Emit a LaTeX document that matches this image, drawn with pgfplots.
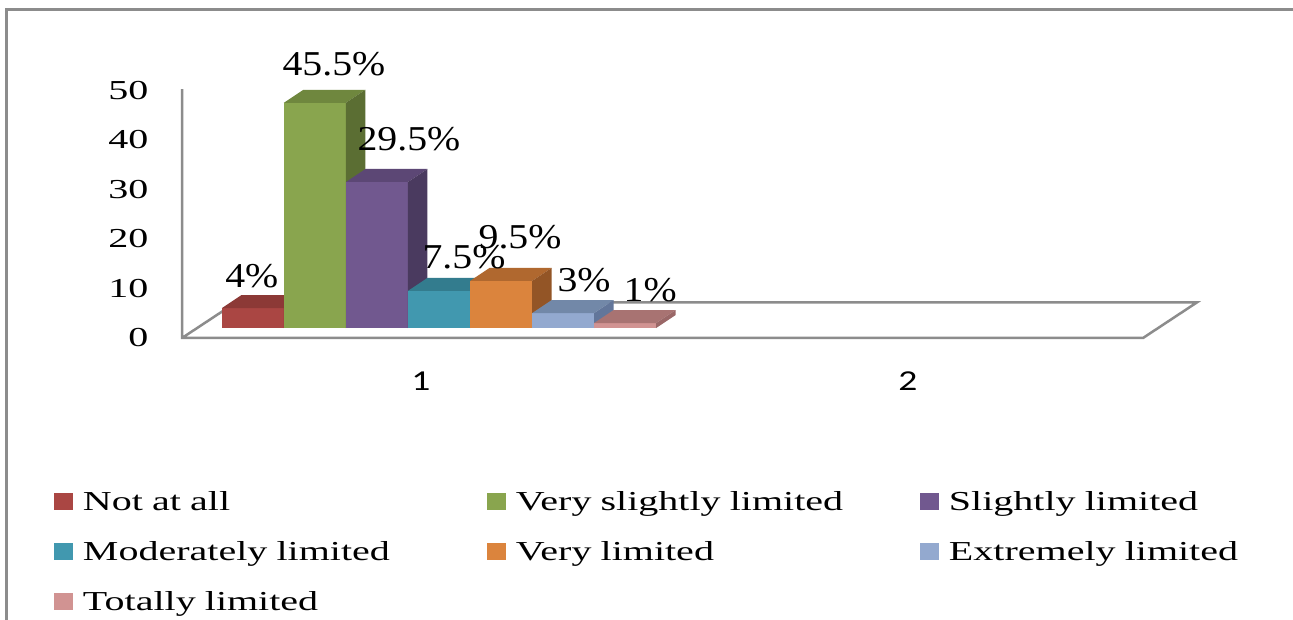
\documentclass[border=0pt]{standalone}
\usepackage{pgfplots}
\pgfplotsset{compat=1.18}
\usepackage{fontspec}
\setmainfont{Liberation Serif}[FakeStretch=1.46]
\newfontfamily\plainserif{Liberation Serif}[FakeStretch=1.14]
\newfontfamily\catfont{Carlito}[FakeStretch=1.3]

\definecolor{rF}{HTML}{AA4643}\definecolor{rT}{HTML}{8C3936}\definecolor{rS}{HTML}{7D3230}
\definecolor{gF}{HTML}{89A54E}\definecolor{gT}{HTML}{6F873E}\definecolor{gS}{HTML}{5B6E33}
\definecolor{pF}{HTML}{71588F}\definecolor{pT}{HTML}{5C4775}\definecolor{pS}{HTML}{4A3A5F}
\definecolor{tF}{HTML}{4198AF}\definecolor{tT}{HTML}{337C8E}\definecolor{tS}{HTML}{2E6B7C}
\definecolor{oF}{HTML}{DB843D}\definecolor{oT}{HTML}{B0682F}\definecolor{oS}{HTML}{935526}
\definecolor{bF}{HTML}{93A9CF}\definecolor{bT}{HTML}{7288A8}\definecolor{bS}{HTML}{62769A}
\definecolor{kF}{HTML}{D19392}\definecolor{kT}{HTML}{A87372}\definecolor{kS}{HTML}{9A6767}
\definecolor{frame}{HTML}{8C8C8C}

% top and side faces of a 3-D bar: #1 left x, #2 value, #3 top colour, #4 side colour
\newcommand{\faces}[4]{%
  \pgfmathsetmacro{\xL}{#1}%
  \pgfmathsetmacro{\xR}{#1+0.12847}%
  \pgfmathsetmacro{\xLd}{#1+0.04037}%
  \pgfmathsetmacro{\xRd}{#1+0.12847+0.04037}%
  \pgfmathsetmacro{\vT}{#2+2.626}%
  \edef\temp{%
    \noexpand\addplot[forget plot, mark=none, fill=#3, draw=none] coordinates {(\xL,#2) (\xR,#2) (\xRd,\vT) (\xLd,\vT)};%
    \noexpand\addplot[forget plot, mark=none, fill=#4, draw=none] coordinates {(\xR,0) (\xRd,2.626) (\xRd,\vT) (\xR,#2)};%
  }\temp}

\pgfplotsset{
  frontbar/.style n args={4}{ybar, bar width=62.05bp, bar shift=#1, fill=#2, draw=none, mark=none,
    nodes near coords={\pgfmathprintnumber{\pgfplotspointmeta}\%},
    every node near coord/.append style={anchor=center, xshift=#3, yshift=#4,
      font=\plainserif\fontsize{35}{40}\selectfont, text=black},
    legend image code/.code={\path[##1, draw=none] (0bp,-6bp) rectangle (19bp,11bp);}},
}

\begin{document}
\begin{tikzpicture}
\useasboundingbox (0,0) rectangle (1293bp,620bp);
\fill[white] (0,0) rectangle (1293bp,620bp);
\draw[frame, line width=3bp] (6bp,0) -- (6bp,610bp) -- (1293bp,610bp);

% frame axis: floor, y axis, tick labels
\begin{axis}[
  at={(179.5bp,272.1bp)}, anchor=south west,
  x=483bp, y=4.95bp,
  xmin=0.5, xmax=2.7, ymin=-2, ymax=52,
  clip=false,
  axis line style={draw=none},
  major tick length=0pt,
  /pgf/number format/assume math mode=true,
  ytick={0,10,20,30,40,50},
  xtick={1,2.008}, xticklabels={1,2},
  yticklabel style={font=\fontsize{27.5}{31}\selectfont, xshift=-27.5bp},
  xticklabel style={font=\catfont\fontsize{29}{34}\selectfont, yshift=-20bp},
]
\addplot[frame, line width=2.5bp, mark=none] coordinates {(0.5052,50.3) (0.5052,0) (2.4948,0) (2.6066,7.2) (0.617,7.2) (0.5052,0)};
\end{axis}

% bar axis
\begin{axis}[
  at={(197.5bp,292bp)}, anchor=south west,
  x=483bp, y=4.95bp,
  xmin=0.5, xmax=2.7, ymin=0, ymax=55,
  clip=false, hide axis,
  /pgf/number format/assume math mode=true,
  legend columns=3,
  legend cell align=left,
  legend style={at={(axis cs:0.2029,-33.1)}, anchor=north west, draw=none, fill=none,
    inner sep=0pt, outer sep=0pt, row sep=25bp,
    font=\fontsize{27.5}{31}\selectfont,
    nodes={text width=404bp, align=left, inner xsep=0pt, inner ysep=0pt, text height=19bp, text depth=6bp},
    /tikz/every odd column/.append style={column sep=10bp}},
]
\addplot[frontbar={-186.15bp}{rF}{-187.15bp}{32bp}] coordinates {(1,4)};
\faces{0.55036}{4}{rT}{rS}
\addplot[frontbar={-124.1bp}{gF}{-105.1bp}{39bp}] coordinates {(1,45.5)};
\faces{0.67883}{45.5}{gT}{gS}
\addplot[frontbar={-62.05bp}{pF}{-30.05bp}{43bp}] coordinates {(1,29.5)};
\faces{0.80730}{29.5}{pT}{pS}
\addplot[frontbar={0bp}{tF}{25bp}{34bp}] coordinates {(1,7.5)};
\faces{0.93577}{7.5}{tT}{tS}
\addplot[frontbar={62.05bp}{oF}{81.05bp}{44bp}] coordinates {(1,9.5)};
\faces{1.06424}{9.5}{oT}{oS}
\addplot[frontbar={124.1bp}{bF}{145.1bp}{33bp}] coordinates {(1,3)};
\faces{1.19271}{3}{bT}{bS}
\addplot[frontbar={186.15bp}{kF}{211.15bp}{33bp}] coordinates {(1,1)};
\faces{1.32118}{1}{kT}{kS}
\legend{Not at all, Very slightly limited, Slightly limited, Moderately limited, Very limited, Extremely limited, Totally limited}
\end{axis}
\end{tikzpicture}
\end{document}
